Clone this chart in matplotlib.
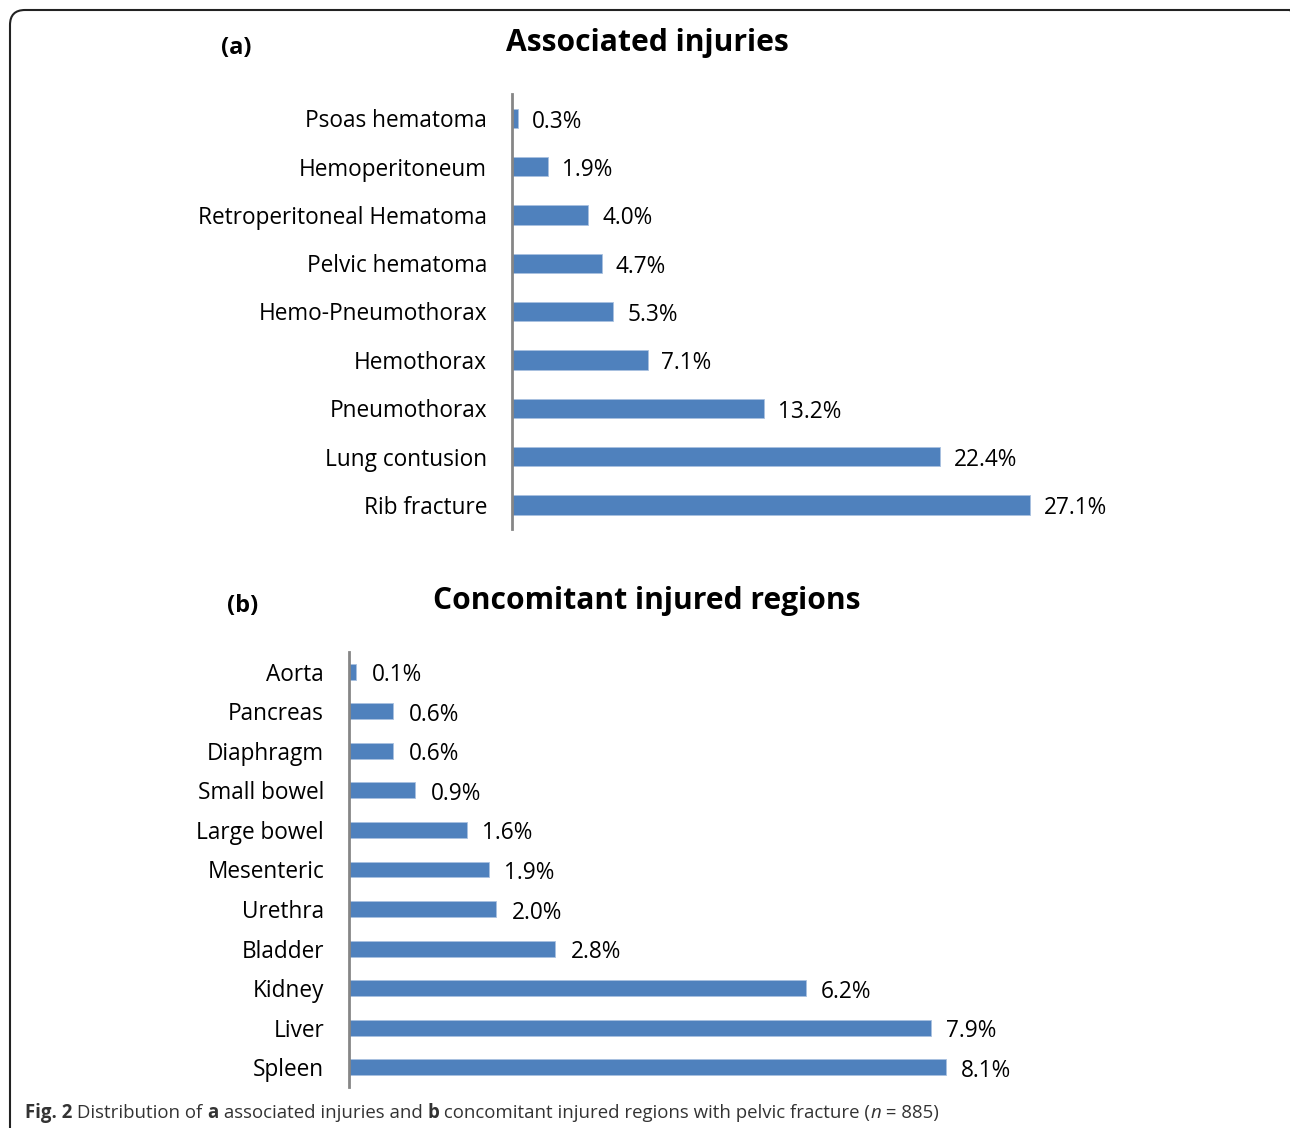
import matplotlib
matplotlib.use('Agg')
import matplotlib.pyplot as plt
from matplotlib.patches import FancyBboxPatch
from matplotlib.transforms import IdentityTransform

plt.rcParams['font.family'] = ['Open Sans', 'DejaVu Sans']

# (a) associated injuries, top to bottom
injuries = ['Psoas hematoma', 'Hemoperitoneum', 'Retroperitoneal Hematoma',
            'Pelvic hematoma', 'Hemo-Pneumothorax', 'Hemothorax',
            'Pneumothorax', 'Lung contusion', 'Rib fracture']
injury_pct = [0.3, 1.9, 4.0, 4.7, 5.3, 7.1, 13.2, 22.4, 27.1]

# (b) concomitant injured regions, top to bottom
regions = ['Aorta', 'Pancreas', 'Diaphragm', 'Small bowel', 'Large bowel',
           'Mesenteric', 'Urethra', 'Bladder', 'Kidney', 'Liver', 'Spleen']
region_pct = [0.1, 0.6, 0.6, 0.9, 1.6, 1.9, 2.0, 2.8, 6.2, 7.9, 8.1]

W, H = 1290, 1128
fig = plt.figure(figsize=(W / 100, H / 100), dpi=100)

bar_color = '#4F81BD'
axis_color = '#868686'


def px_axes(left, top, right, bottom):
    return fig.add_axes([left / W, 1 - bottom / H, (right - left) / W, (bottom - top) / H])


def draw_bars(ax, labels, values, xmax, offset):
    pos = list(range(len(labels)))
    ax.barh(pos, values, height=0.4, color=bar_color, edgecolor='#a9c1e0', linewidth=0.6)
    ax.set_ylim(len(labels) - 0.5, -0.5)
    ax.set_xlim(0, xmax)
    ax.set_yticks(pos)
    ax.set_yticklabels(labels, fontsize=16.3)
    ax.tick_params(axis='y', length=0, pad=18)
    ax.set_xticks([])
    for s in ['top', 'right', 'bottom']:
        ax.spines[s].set_visible(False)
    ax.spines['left'].set_color(axis_color)
    ax.spines['left'].set_linewidth(2)
    for p, v in zip(pos, values):
        ax.annotate(f'{v:.1f}%', (v, p), xytext=(offset, -2.5), textcoords='offset points',
                    va='center', ha='left', fontsize=16.3, annotation_clip=False)


ax1 = px_axes(512, 94, 1085, 529)
draw_bars(ax1, injuries, injury_pct, 30, 10)

ax2 = px_axes(349, 652, 1012, 1087)
draw_bars(ax2, regions, region_pct, 9, 11)

fig.text(647 / W, 1 - 43 / H, 'Associated injuries', ha='center', va='center',
         fontsize=21.6, fontweight='bold')
fig.text(236 / W, 1 - 48 / H, '(a)', ha='center', va='center', fontsize=17, fontweight='bold')
fig.text(647 / W, 1 - 601 / H, 'Concomitant injured regions', ha='center', va='center',
         fontsize=21.6, fontweight='bold')
fig.text(243 / W, 1 - 606 / H, '(b)', ha='center', va='center', fontsize=17, fontweight='bold')

# rounded frame, in pixels (extends past right and bottom edges)
frame = FancyBboxPatch((10, -30), 1295, H - 10 + 30,
                       boxstyle='round,pad=0,rounding_size=15',
                       transform=IdentityTransform(), fill=False, edgecolor='#222222',
                       linewidth=1.5, clip_on=False)
fig.patches.append(frame)

# caption with mixed styles
pieces = [('Fig. 2', 'bold', 'normal'), (' Distribution of ', 'normal', 'normal'),
          ('a', 'bold', 'normal'), (' associated injuries and ', 'normal', 'normal'),
          ('b', 'bold', 'normal'),
          (' concomitant injured regions with pelvic fracture (', 'normal', 'normal'),
          ('n', 'normal', 'italic'), (' = 885)', 'normal', 'normal')]
renderer = fig.canvas.get_renderer()
x = 25
for txt, wt, st in pieces:
    t = fig.text(x / W, 1 - 1113 / H, txt, ha='left', va='center', fontsize=13.4,
                 fontweight=wt, fontstyle=st, color='#333333')
    bb = t.get_window_extent(renderer)
    x += bb.width

fig.savefig('out.png', dpi=100)
